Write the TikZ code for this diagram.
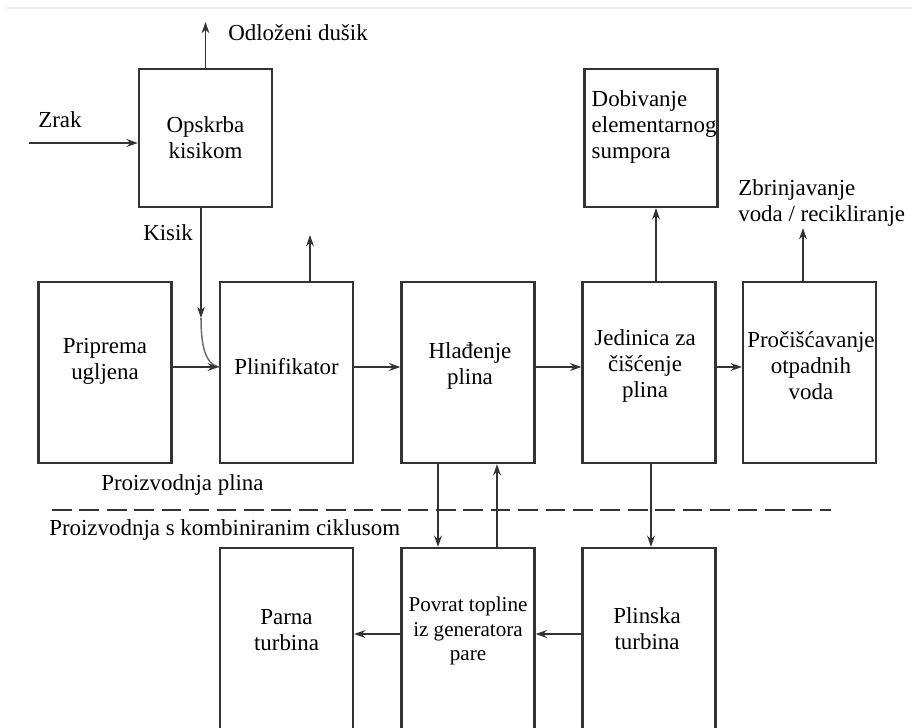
\documentclass[tikz,border=0pt]{standalone}
\usepackage{fontspec}
\setmainfont{Liberation Serif}
\usetikzlibrary{arrows.meta, positioning, calc}

\definecolor{linegrey}{HTML}{333333}

\begin{document}
\begin{tikzpicture}[
    x=0.025cm, y=-0.025cm,
    box/.style={draw=linegrey, line width=1.5pt, rectangle, minimum width=3.325cm, inner sep=0pt},
    topbox/.style={box, minimum height=3.45cm},
    midbox/.style={box, minimum height=4.525cm},
    lowbox/.style={box, minimum height=5.3cm},
    txt/.style={font=\fontsize{16.3}{18.5}\selectfont, align=center, inner sep=0pt, text=black},
    arrow/.style={draw=linegrey, line width=1.3pt, -{Stealth[length=8pt, width=5.5pt]}},
    feedline/.style={draw=black!55, line width=1.1pt},
    split/.style={draw=linegrey, line width=1.4pt, dash pattern=on 14pt off 5.5pt}
]
\path[use as bounding box] (0,0) rectangle (912,728);
\clip (0,0) rectangle (912,728);
\draw[black!8, line width=1pt] (7,8) -- (912,8);

% Top row
\node[topbox, label={[txt]center:{Opskrba\\kisikom}}] (opskrba) at (205.5,138) {};
\node[topbox, label={[txt, align=left, anchor=west, xshift=5.7pt, yshift=7.5pt]west:{Dobivanje\\elementarnog\\sumpora}}] (sumpor) at (651,138) {};

% Gas production
\node[midbox, label={[txt, yshift=7.8pt]center:{Priprema\\ugljena}}] (priprema) at (105,372.5) {};
\node[midbox, label={[txt, yshift=3.9pt]center:{Plinifikator}}] (plin) at (286.5,372.5) {};
\node[midbox, label={[txt, xshift=1.4pt, yshift=4.6pt]center:{Hlađenje\\plina}}] (hladenje) at (468,372.5) {};
\node[midbox, label={[txt, xshift=-2.8pt, yshift=4.6pt]center:{Jedinica za\\čišćenje\\plina}}] (ciscenje) at (649,372.5) {};
\node[midbox, label={[txt, xshift=1pt, yshift=4.6pt]center:{Pročišćavanje\\otpadnih\\voda}}] (otpadne) at (809.5,372.5) {};

% Combined cycle
\node[lowbox, label={[txt, yshift=17.1pt]center:{Parna\\turbina}}] (parna) at (286.5,654) {};
\node[lowbox, label={[txt, font=\fontsize{15}{17.5}\selectfont, yshift=16.4pt]center:{Povrat topline\\iz generatora\\pare}}] (povrat) at (468,654) {};
\node[lowbox, label={[txt, xshift=-1.4pt, yshift=17.8pt]center:{Plinska\\turbina}}] (plinska) at (649,654) {};

% Free texts
\node[txt, anchor=west] (dusik) at (228,33) {Odloženi dušik};
\node[txt, anchor=west] (zrak) at (38,120) {Zrak};
\node[txt, anchor=west] (kisik) at (143,233) {Kisik};
\node[txt, anchor=west, align=left] (voda) at (738,203) {Zbrinjavanje\\voda / recikliranje};
\node[txt, anchor=west] (plinprod) at (101,485) {Proizvodnja plina};
\node[txt, anchor=west] (ccprod) at (49,530) {Proizvodnja s kombiniranim ciklusom};

\coordinate (zrakin) at (29,143);
\coordinate (dusikout) at (205.5,22);
\coordinate (kisikend) at (201,318);
\coordinate (feed) at (plin.west |- 0,367);
\coordinate (plinout) at (310,235);
\coordinate (vodaout) at (803,228);

% Connectors
\draw[arrow] (opskrba.north) -- (dusikout);
\draw[arrow] (zrakin) -- (zrakin -| opskrba.west);
\draw[arrow] (opskrba.south -| kisikend) -- (kisikend);
\draw[feedline] (kisikend) .. controls (201,345) and (205,364) .. (feed);
\draw[arrow] (priprema.east |- feed) -- (feed);
\draw[arrow] (plin.north -| plinout) -- (plinout);
\draw[arrow] (plin.east |- 0,367) -- (hladenje.west |- 0,367);
\draw[arrow] (hladenje.east |- 0,367) -- (ciscenje.west |- 0,367);
\draw[arrow] (ciscenje.east |- 0,367) -- (otpadne.west |- 0,367);
\draw[arrow] (ciscenje.north -| 656,0) -- (sumpor.south -| 656,0);
\draw[arrow] (otpadne.north -| vodaout) -- (vodaout);
\draw[arrow] (hladenje.south -| 438,0) -- (povrat.north -| 438,0);
\draw[arrow] (povrat.north -| 497,0) -- (hladenje.south -| 497,0);
\draw[arrow] (ciscenje.south -| 651,0) -- (plinska.north -| 651,0);
\draw[arrow] (plinska.west |- 0,634) -- (povrat.east |- 0,634);
\draw[arrow] (povrat.west |- 0,634) -- (parna.east |- 0,634);

% Boundary between the two parts
\draw[split] (52,510) -- (831,510);
\end{tikzpicture}
\end{document}
